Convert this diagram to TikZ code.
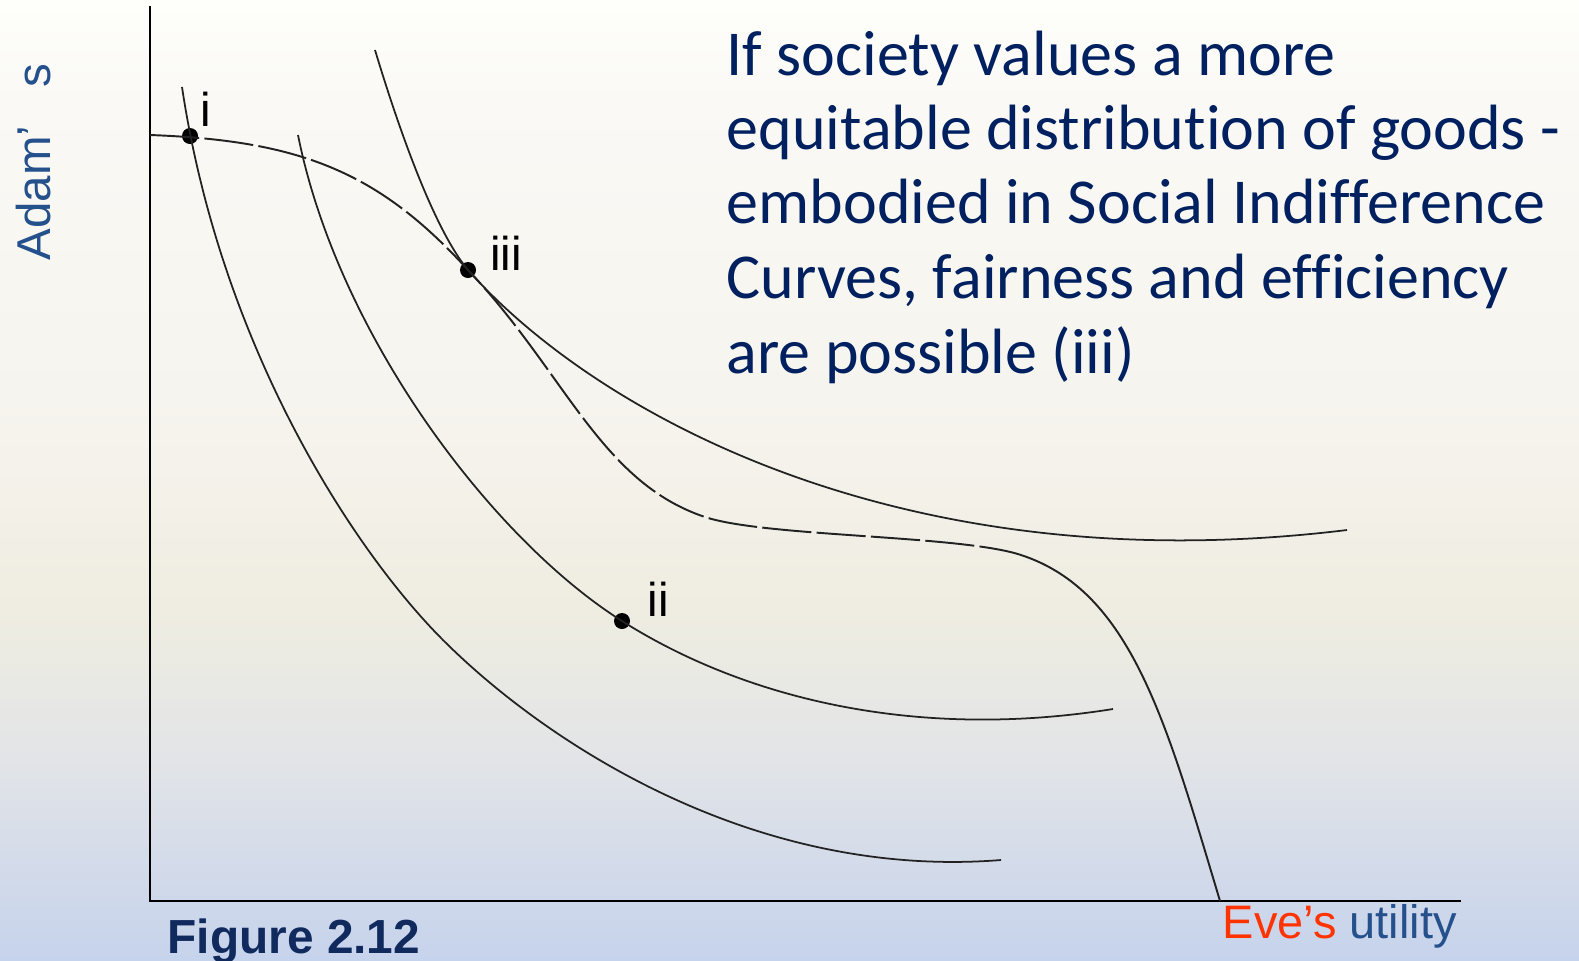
\documentclass[tikz,border=0pt]{standalone}
\usepackage{fontspec}
\setmainfont{Liberation Sans}
\newfontfamily\calib[Ligatures={NoCommon}]{Carlito}
\definecolor{bgA}{HTML}{FEFEFB}
\definecolor{bgB}{HTML}{FAF9F5}
\definecolor{bgC}{HTML}{F6F4EE}
\definecolor{bgD}{HTML}{EFEDE1}
\definecolor{bgE}{HTML}{E2E4E7}
\definecolor{bgF}{HTML}{C6D3EC}
\definecolor{navy}{HTML}{002060}
\definecolor{fignavy}{HTML}{102A5E}
\definecolor{axblue}{HTML}{24508C}
\definecolor{evered}{HTML}{FF3300}
\definecolor{curvecol}{HTML}{222222}
\tikzset{
  axisline/.style={line width=0.75pt, black},
  curveline/.style={line width=0.5pt, curvecol},
  frontier/.style={line width=0.55pt, curvecol, dash pattern=on 14pt off 1.5pt},
  frontiersolid/.style={line width=0.55pt, curvecol},
  dot/.style={circle, fill=black, inner sep=0pt, minimum size=0.16cm},
  ptlabel/.style={font=\fontsize{13.5}{16}\selectfont, text=black, inner sep=0pt},
  bodytext/.style={font=\calib\fontsize{18.2}{21}\selectfont, text=navy, inner sep=0pt, anchor=base west},
}
\begin{document}
\begin{tikzpicture}[x=0.01cm,y=-0.01cm]
\useasboundingbox (0,0) rectangle (1579,960);
% background
\shade[top color=bgA, bottom color=bgB] (0,0) rectangle (1579,101);
\shade[top color=bgB, bottom color=bgC] (0,100) rectangle (1579,401);
\shade[top color=bgC, bottom color=bgD] (0,400) rectangle (1579,611);
\shade[top color=bgD, bottom color=bgE] (0,610) rectangle (1579,761);
\shade[top color=bgE, bottom color=bgF] (0,760) rectangle (1579,960);
% axes
\coordinate (ytop) at (150,6);
\coordinate (O) at (150,901);
\coordinate (xend) at (1461,901);
\draw[axisline] (ytop) -- (O) -- (xend);
% points
\node[dot] (pi) at (190,136) {};
\node[dot] (piii) at (468,270) {};
\node[dot] (pii) at (622,621) {};
% indifference curve 1 (through i)
\coordinate (c1a) at (182,87);
\coordinate (c1m) at (443,640);
\coordinate (c1b) at (1001,860);
\draw[curveline] (c1a) .. controls (221,347) and (353,550) .. (c1m)
  .. controls (543,740) and (751,880) .. (c1b);
% indifference curve 2 (through ii)
\coordinate (c2a) at (298,135);
\coordinate (c2b) at (1113,709);
\draw[curveline] (c2a) .. controls (338,335) and (492,539) .. (pii.center)
  .. controls (742,697) and (913,741) .. (c2b);
% indifference curve 3 (through iii)
\coordinate (c3a) at (375,50);
\coordinate (c3b) at (1347,530);
\draw[curveline] (c3a) .. controls (397,123) and (433,228) .. (piii.center)
  .. controls (592,410) and (897,585) .. (c3b);
% utility possibility frontier
\coordinate (f0) at (150,135);
\coordinate (f2) at (705,517);
\coordinate (f3) at (1021,555);
\coordinate (f4) at (1220,901);
\draw[frontier] (f0) .. controls (299,140.5) and (378,171) .. (piii.center)
  .. controls (565,372) and (600,482) .. (f2)
  .. controls (765,537) and (961,535) .. (f3);
\draw[frontiersolid] (f3) .. controls (1131,591) and (1166,721) .. (f4);
% point labels
\node[ptlabel, anchor=base] (li) at (206,126) {i};
\node[ptlabel, anchor=base] (liii) at (506,270) {iii};
\node[ptlabel, anchor=base] (lii) at (658,616) {ii};
% axis labels
\node[rotate=90, anchor=base, inner sep=0pt, text=axblue, font=\fontsize{13.5}{16}\selectfont] (ylab) at (50,162) {Adam’\hspace{0.8em}s};
\node[anchor=base west, inner sep=0pt, font=\fontsize{13.35}{16}\selectfont] (xlab) at (1222,938) {\textcolor{evered}{Eve’s} \textcolor{axblue}{utility}};
\node[anchor=base west, inner sep=0pt, text=fignavy, font=\bfseries\fontsize{13.6}{16}\selectfont] (fig) at (167,953) {Figure 2.12};
% body text
\node[bodytext] (t1) at (726,75) {If society values a more};
\node[bodytext] (t2) at (726,149) {equitable distribution of goods -};
\node[bodytext] (t3) at (726,223) {embodied in Social Indifference};
\node[bodytext] (t4) at (726,298) {Curves, fairness and efficiency};
\node[bodytext] (t5) at (726,373) {are possible (iii)};
\end{tikzpicture}
\end{document}
